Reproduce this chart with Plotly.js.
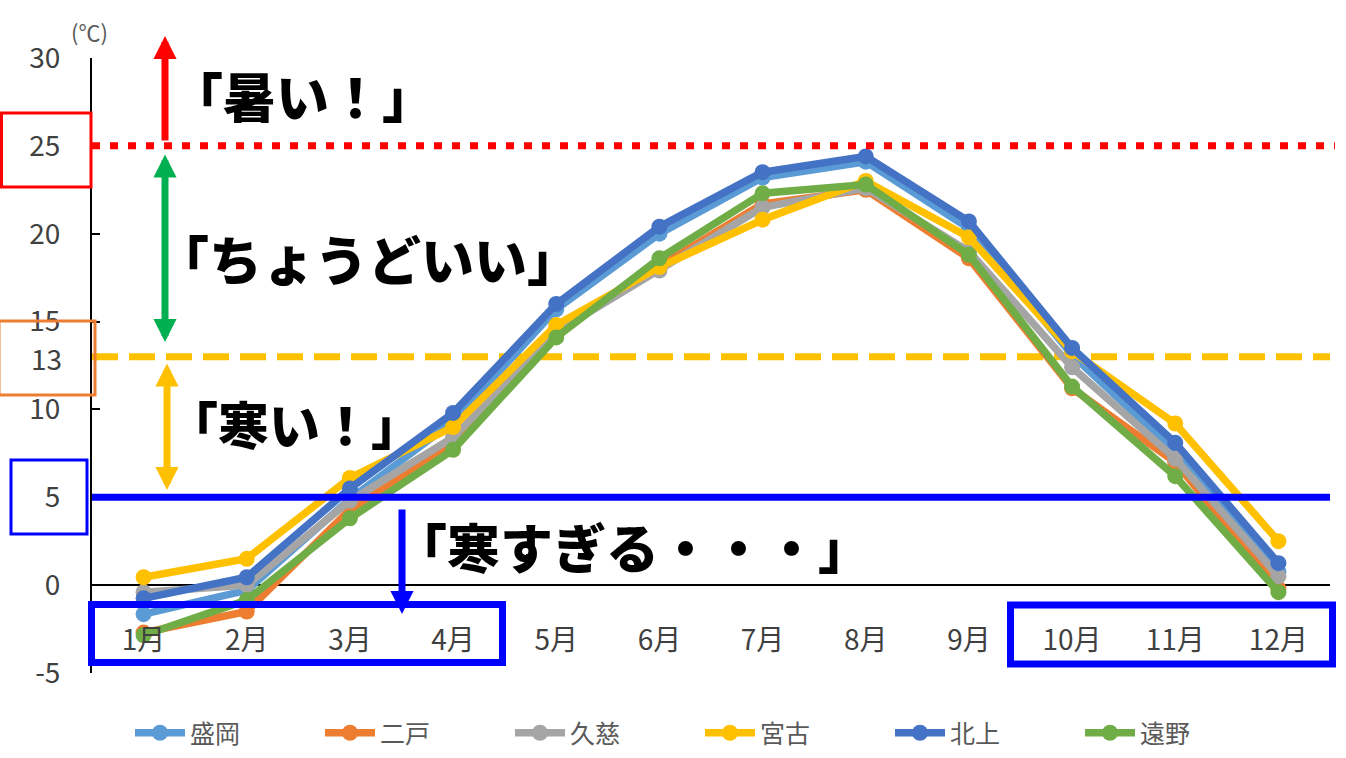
<!DOCTYPE html>
<html>
<head>
<meta charset="utf-8">
<script src="https://cdn.plot.ly/plotly-3.0.1.min.js"></script>
<style>html,body{margin:0;padding:0;background:#fff;}#chart{width:1346px;height:758px;}</style>
</head>
<body>
<div id="chart"></div>
<script>
// ---- data ----
const months = ["1月","2月","3月","4月","5月","6月","7月","8月","9月","10月","11月","12月"];
const seriesNames = ["盛岡","二戸","久慈","宮古","北上","遠野"];
const morioka  = [-1.65,-0.3, 4.9, 9.3,15.7,20.0,23.2,24.1,20.3,13.1,7.6, 0.75];
const ninohe   = [-2.7, -1.5, 4.3, 8.0,14.6,18.2,21.7,22.5,18.6,11.2,7.0,-0.2];
const kuji     = [-0.4,  0.0, 4.8, 8.4,14.4,17.9,21.5,22.6,19.0,12.4,7.2, 0.5];
const miyako   = [ 0.45, 1.5, 6.1, 9.0,14.8,18.1,20.8,23.0,19.8,13.3,9.2, 2.5];
const kitakami = [-0.75, 0.45,5.5, 9.8,16.0,20.4,23.5,24.4,20.7,13.5,8.1, 1.25];
const tono     = [-2.85,-0.85,3.8, 7.7,14.1,18.6,22.3,22.8,18.8,11.3,6.2,-0.4];
const yTickVals = [-5,0,5,10,15,20,25,30];
const yTickText = ["-5","0","5","10","15","20","25","30"];
const hotLevel = 25, goodLevel = 13, coldLevel = 5;
const yMin = -5, yMax = 30;

// ---- geometry helpers (pixel -> paper) ----
const L = 92, R = 1330, T = 58, B = 673;
const px = x => (x - L) / (R - L);
const py = y => (B - y) / (B - T);

const colors = ["#5B9BD5","#ED7D31","#A5A5A5","#FFC000","#4472C4","#70AD47"];
const allData = [morioka, ninohe, kuji, miyako, kitakami, tono];
const traces = allData.map((d, i) => ({
  type: "scatter", mode: "lines+markers", name: seriesNames[i],
  x: months, y: d,
  line: {color: colors[i], width: 7.5},
  marker: {color: colors[i], size: 16},
  hoverinfo: "skip"
}));

const FONT = "Noto Sans CJK JP";
const bigFont = {family: FONT, size: 53, color: "#000", weight: 900};
const bigFont2 = {family: FONT, size: 51, color: "#000", weight: 900};

const shapes = [
  {type:"line", xref:"paper", yref:"y", x0:0, x1:1, y0:goodLevel, y1:goodLevel, layer:"below",
   line:{color:"#FFC000", width:7, dash:"26px,11px"}},
  {type:"line", xref:"paper", yref:"y", x0:0, x1:1.004, y0:hotLevel, y1:hotLevel, layer:"above",
   line:{color:"#FF0000", width:7, dash:"8px,10px"}},
  {type:"line", xref:"paper", yref:"y", x0:0, x1:1, y0:coldLevel, y1:coldLevel, layer:"above",
   line:{color:"#0000FF", width:7}},
  // left boxes
  {type:"rect", xref:"paper", yref:"paper", x0:px(1.5), x1:px(91), y0:py(113), y1:py(187),
   line:{color:"#FF0000", width:3}},
  {type:"rect", xref:"paper", yref:"paper", x0:px(-1), x1:px(95), y0:py(321), y1:py(395),
   line:{color:"#ED7D31", width:3}},
  {type:"rect", xref:"paper", yref:"paper", x0:px(11), x1:px(87), y0:py(460), y1:py(534),
   line:{color:"#0000FF", width:3}},
  // blue month boxes
  {type:"rect", xref:"paper", yref:"paper", x0:px(91.5), x1:px(502.5), y0:py(604.5), y1:py(662.5),
   line:{color:"#0000FF", width:7}},
  {type:"rect", xref:"paper", yref:"paper", x0:px(1010.5), x1:px(1332.5), y0:py(605), y1:py(664),
   line:{color:"#0000FF", width:7}}
];

function arrow(x, yTip, yTail, color, both) {
  const a = {xref:"paper", yref:"paper", x:px(x), y:py(yTip), ax:0, ay:yTail - yTip,
    text:"", showarrow:true, arrowcolor:color, arrowwidth:7, arrowhead:2, arrowsize:0.66,
    standoff:0, startstandoff:0};
  if (both) { a.arrowside = "end+start"; a.startarrowhead = 2; a.startarrowsize = 0.66; }
  return a;
}
function label(text, x, y, font) {
  return {xref:"paper", yref:"paper", x:px(x), y:py(y), xanchor:"center", yanchor:"middle",
    text:text, showarrow:false, font:font};
}

const annotations = [
  arrow(165, 36, 142, "#FF0000", false),
  arrow(165, 342, 153, "#00B050", true),
  arrow(167, 490, 362, "#FFC000", true),
  arrow(402, 614, 508, "#0000FF", false),
  label("「暑い！」", 302, 95, bigFont),
  label("「ちょうどいい」", 368, 258, bigFont),
  label("「寒い！」", 294, 423, bigFont2),
  label("「寒すぎる・・・」", 632, 546, bigFont),
  label("13", 46, 358, {family: FONT, size: 28, color: "#404040"}),
  label("(℃)", 89, 31, {family: FONT, size: 22, color: "#595959"})
];

const layout = {
  width: 1346, height: 758,
  margin: {l: L, r: 1346 - R, t: T, b: 758 - B, autoexpand: false},
  paper_bgcolor: "#fff", plot_bgcolor: "rgba(0,0,0,0)",
  font: {family: FONT, color: "#404040"},
  showlegend: true,
  legend: {orientation: "h", x: px(700), xanchor: "center", y: py(756), yanchor: "bottom",
           font: {family: FONT, size: 25, color: "#595959"}, itemwidth: 50, entrywidth: 125,
           bgcolor: "rgba(0,0,0,0)"},
  xaxis: {type: "category", range: [-0.5, 11.5], anchor: "free",
          position: (0 - yMin) / (yMax - yMin), showline: false, ticks: "", showgrid: false,
          zeroline: false, tickfont: {family: FONT, size: 28, color: "#404040"},
          ticklabelstandoff: 36, fixedrange: true},
  yaxis: {range: [yMin, yMax], tickvals: yTickVals, ticktext: yTickText,
          showline: true, linecolor: "#000", linewidth: 2,
          ticks: "inside", ticklen: 8, tickwidth: 2, tickcolor: "#000",
          zeroline: true, zerolinecolor: "#000", zerolinewidth: 2, showgrid: false,
          tickfont: {family: FONT, size: 28, color: "#404040"}, ticklabelstandoff: 24, fixedrange: true},
  shapes: shapes,
  annotations: annotations
};

Plotly.newPlot("chart", traces, layout, {displayModeBar: false, staticPlot: true});
</script>
</body>
</html>
